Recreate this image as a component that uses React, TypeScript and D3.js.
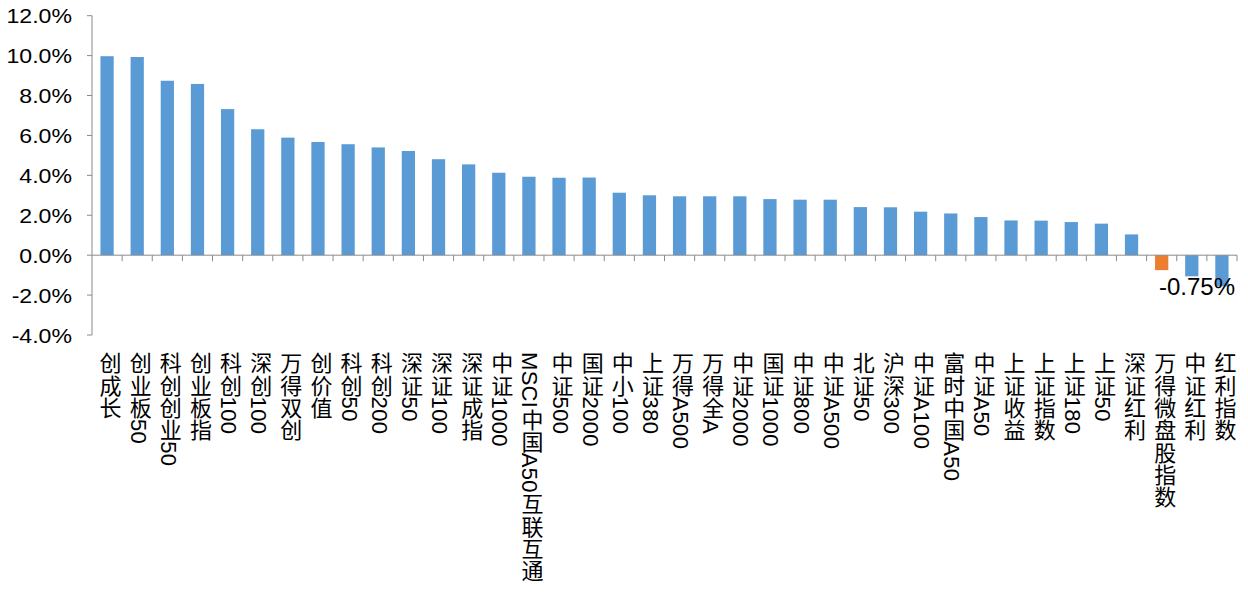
import React from "react";
import * as d3 from "d3";

const categories: string[] = [
  "创成长", "创业板50", "科创创业50", "创业板指", "科创100", "深创100", "万得双创", "创价值",
  "科创50", "科创200", "深证50", "深证100", "深证成指", "中证1000", "MSCI中国A50互联互通",
  "中证500", "国证2000", "中小100", "上证380", "万得A500", "万得全A", "中证2000", "国证1000",
  "中证800", "中证A500", "北证50", "沪深300", "中证A100", "富时中国A50", "中证A50", "上证收益",
  "上证指数", "上证180", "上证50", "深证红利", "万得微盘股指数", "中证红利", "红利指数",
];

const values: number[] = [
  9.97, 9.93, 8.74, 8.58, 7.32, 6.31, 5.89, 5.67,
  5.56, 5.4, 5.22, 4.81, 4.55, 4.13, 3.93,
  3.88, 3.89, 3.13, 3.0, 2.95, 2.95, 2.95, 2.81,
  2.78, 2.78, 2.41, 2.4, 2.18, 2.09, 1.91, 1.74,
  1.73, 1.66, 1.58, 1.04, -0.75, -1.06, -1.56,
];

const highlighted = "万得微盘股指数";
const yTicks: number[] = [-4, -2, 0, 2, 4, 6, 8, 10, 12];

const BLUE = "#5B9BD5";
const ORANGE = "#ED7D31";
const AXIS = "#8a8a8a";

export default function App() {
  const left = 92;
  const right = 1237;
  const x = d3.scaleBand<string>().domain(categories).range([left, right]).paddingInner(0.56).paddingOuter(0.28);
  const xb = d3.scaleBand<string>().domain(categories).range([left, right]);
  const y = d3.scaleLinear().domain([-4, 12]).range([335, 15.7]);
  const fmt = (v: number) => v.toFixed(1) + "%";
  const hiIdx = categories.indexOf(highlighted);
  const hiVal = values[hiIdx];

  return (
    <svg
      width={1248}
      height={597}
      style={{ position: "absolute", left: 0, top: 0, background: "#fff" }}
      fontFamily="'Liberation Sans', Arial, 'Noto Sans CJK SC', sans-serif"
    >
      {/* bars */}
      {categories.map((c, i) => {
        const v = values[i];
        const y0 = y(0);
        const yv = y(v);
        return (
          <rect
            key={c}
            x={x(c)}
            width={x.bandwidth()}
            y={Math.min(y0, yv)}
            height={Math.abs(yv - y0)}
            fill={c === highlighted ? ORANGE : BLUE}
          />
        );
      })}

      {/* y axis */}
      <line x1={left} x2={left} y1={y(12)} y2={y(-4)} stroke={AXIS} strokeWidth={1} />
      {yTicks.map((t) => (
        <g key={t}>
          <line x1={left - 5} x2={left} y1={y(t)} y2={y(t)} stroke={AXIS} strokeWidth={1} />
          <text
            x={72}
            y={y(t)}
            dy="0.36em"
            textAnchor="end"
            fontSize={21}
            fill="#000"
            transform={`translate(72,0) scale(1.1,1) translate(-72,0)`}
          >
            {fmt(t)}
          </text>
        </g>
      ))}

      {/* x axis */}
      <line x1={left} x2={right} y1={y(0)} y2={y(0)} stroke={AXIS} strokeWidth={1} />
      {categories.map((c) => (
        <line
          key={"t" + c}
          x1={(xb(c) as number) + xb.bandwidth()}
          x2={(xb(c) as number) + xb.bandwidth()}
          y1={y(0)}
          y2={y(0) + 6}
          stroke={AXIS}
          strokeWidth={1}
        />
      ))}

      {/* category labels (vertical) */}
      {categories.map((c) => (
        <text
          key={"l" + c}
          x={(x(c) as number) + x.bandwidth() / 2 + 1}
          y={352}
          writingMode="tb"
          style={{ writingMode: "vertical-rl", letterSpacing: "0.3px" } as any}
          fontSize={22}
          fill="#000"
        >
          {c}
        </text>
      ))}

      {/* data label */}
      <text x={right - 2} y={y(-2)} textAnchor="end" fontSize={24} fill="#000">
        {hiVal.toFixed(2) + "%"}
      </text>
    </svg>
  );
}
